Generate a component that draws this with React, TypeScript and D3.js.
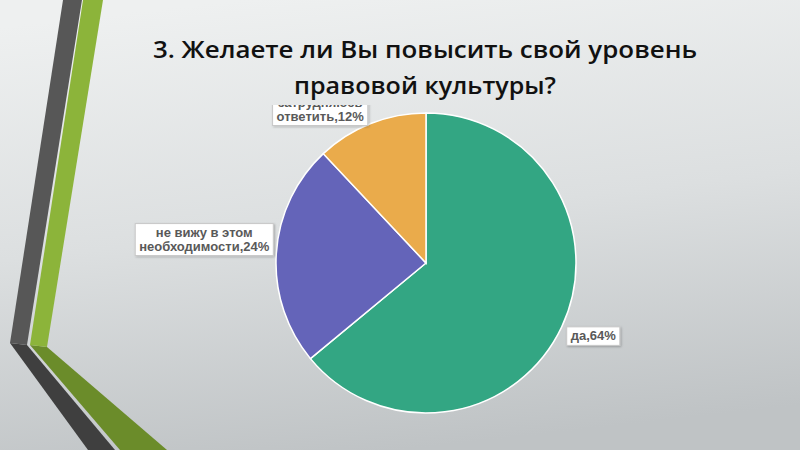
import React from "react";
import * as d3 from "d3";

const titleLines = ["3. Желаете ли Вы повысить свой уровень", "правовой культуры?"];
const titleWidths = [544, 262];
const categories = ["да", "не вижу в этом необходимости", "затрудняюсь ответить"];
const values = [64, 24, 12];
const labelLines = [["да,64%"], ["не вижу в этом", "необходимости,24%"], ["затрудняюсь", "ответить,12%"]];
const colors = ["#33a683", "#6464b9", "#eaab4b"];

const W = 800;
const H = 450;
const cx = 426;
const cy = 263;
const R = 150;
const LABEL_FONT = "bold 13px 'Liberation Sans', Arial, sans-serif";

function measure(t: string): number {
  if (typeof document === "undefined") return t.length * 7.6;
  const c = document.createElement("canvas").getContext("2d");
  if (!c) return t.length * 7.6;
  c.font = LABEL_FONT;
  return c.measureText(t).width;
}

export default function App() {
  const pie = d3.pie<number>().sort(null).value((d) => d)(values);
  const arc = d3.arc<d3.PieArcDatum<number>>().innerRadius(0).outerRadius(R);
  const lineH = 13.5;

  return (
    <svg width={W} height={H} style={{ position: "absolute", left: 0, top: 0 }}>
      <defs>
        <linearGradient id="bg" x1="0.3" y1="0" x2="0.5" y2="1">
          <stop offset="0" stopColor="#eef0f0" />
          <stop offset="0.5" stopColor="#dcdfe0" />
          <stop offset="1" stopColor="#bfc3c5" />
        </linearGradient>
        <clipPath id="plot">
          <rect x={0} y={105} width={W} height={H - 105} />
        </clipPath>
        <filter id="sh" x="-10%" y="-10%" width="130%" height="140%">
          <feDropShadow dx="1" dy="1" stdDeviation="0.8" floodColor="#000" floodOpacity="0.25" />
        </filter>
      </defs>
      <rect width={W} height={H} fill="url(#bg)" />
      {/* decoration */}
      <polygon points="47,347 30,345 120,450 167,450" fill="#6b8c2a" />
      <polygon points="83,0 103,0 47,347 30,345" fill="#8cb43a" />
      <polygon points="27,345 10,343 88,450 115,450" fill="#3f3f3f" />
      <polygon points="63,0 82,0 27,345 10,343" fill="#575757" />

      <g fontFamily="'Open Sans', 'Liberation Sans', sans-serif" fontSize={24} fontWeight={600} fill="#111" textAnchor="middle">
        {titleLines.map((t, i) => (
          <text key={i} x={425} y={58 + i * 36} textLength={titleWidths[i]} lengthAdjust="spacingAndGlyphs">
            {t}
          </text>
        ))}
      </g>

      <g clipPath="url(#plot)">
        <g transform={`translate(${cx},${cy})`}>
          {pie.map((p, i) => (
            <path key={categories[i]} d={arc(p) || ""} fill={colors[i]} stroke="#fff" strokeWidth={1.5} />
          ))}
        </g>
        {pie.map((p, i) => {
          const mid = (p.startAngle + p.endAngle) / 2;
          const ax = cx + Math.sin(mid) * R;
          const ay = cy - Math.cos(mid) * R;
          const lines = labelLines[i];
          const maxW = d3.max(lines, (l) => measure(l)) || 0;
          const bw = maxW + 8;
          const bh = lines.length * lineH + 5;
          const left = Math.sin(mid) < 0;
          const bx = left ? ax - 3 - bw : ax + 5;
          const by = left ? ay + 2 - bh : ay;
          return (
            <g key={i}>
              <rect x={bx} y={by} width={bw} height={bh} fill="#fff" stroke="#c8c8c8" strokeWidth={1} filter="url(#sh)" />
              {lines.map((l, j) => (
                <text
                  key={j}
                  x={bx + bw / 2}
                  y={by + 2.5 + lineH * (j + 1) - 2.5}
                  textAnchor="middle"
                  fontFamily="'Liberation Sans', Arial, sans-serif"
                  fontWeight="bold"
                  fontSize={13}
                  fill="#595959"
                >
                  {l}
                </text>
              ))}
            </g>
          );
        })}
      </g>
    </svg>
  );
}
